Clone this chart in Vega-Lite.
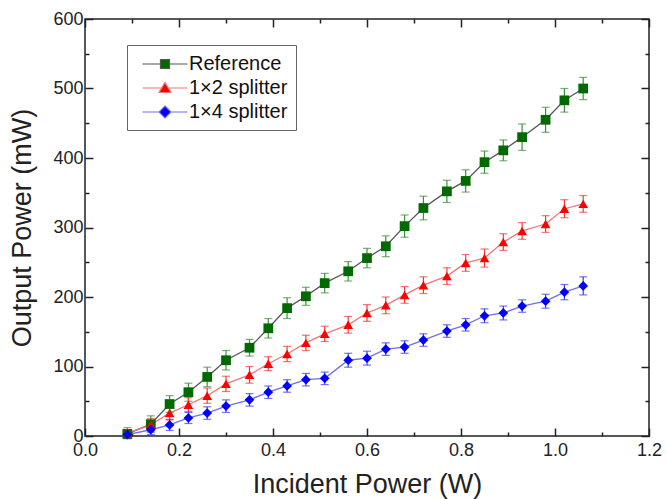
{
  "$schema": "https://vega.github.io/schema/vega-lite/v6.json",
  "width": 564,
  "height": 417,
  "autosize": {"type": "none"},
  "padding": {"left": 85, "top": 19, "right": 18, "bottom": 63},
  "background": "white",
  "config": {
    "view": {"stroke": "#222222", "strokeWidth": 1.5},
    "axis": {
      "domain": false,
      "grid": false,
      "labelFont": "Liberation Sans",
      "titleFont": "Liberation Sans",
      "labelFontSize": 18,
      "titleFontSize": 27,
      "labelColor": "#222222",
      "titleColor": "#222222",
      "titleFontWeight": "normal",
      "tickColor": "#222222",
      "tickWidth": 1.5
    }
  },
  "data": {
    "values": [
      {"s": "Reference", "x": 0.09, "y": 3, "e": 6},
      {"s": "Reference", "x": 0.14, "y": 17, "e": 12},
      {"s": "Reference", "x": 0.18, "y": 46, "e": 12},
      {"s": "Reference", "x": 0.22, "y": 63, "e": 13},
      {"s": "Reference", "x": 0.26, "y": 85, "e": 14},
      {"s": "Reference", "x": 0.30, "y": 109, "e": 14},
      {"s": "Reference", "x": 0.35, "y": 127, "e": 12},
      {"s": "Reference", "x": 0.39, "y": 155, "e": 14},
      {"s": "Reference", "x": 0.43, "y": 184, "e": 15},
      {"s": "Reference", "x": 0.47, "y": 201, "e": 13},
      {"s": "Reference", "x": 0.51, "y": 220, "e": 14},
      {"s": "Reference", "x": 0.56, "y": 237, "e": 14},
      {"s": "Reference", "x": 0.60, "y": 256, "e": 14},
      {"s": "Reference", "x": 0.64, "y": 273, "e": 15},
      {"s": "Reference", "x": 0.68, "y": 302, "e": 16},
      {"s": "Reference", "x": 0.72, "y": 328, "e": 17},
      {"s": "Reference", "x": 0.77, "y": 352, "e": 16},
      {"s": "Reference", "x": 0.81, "y": 367, "e": 16},
      {"s": "Reference", "x": 0.85, "y": 394, "e": 16},
      {"s": "Reference", "x": 0.89, "y": 411, "e": 15},
      {"s": "Reference", "x": 0.93, "y": 430, "e": 19},
      {"s": "Reference", "x": 0.98, "y": 455, "e": 18},
      {"s": "Reference", "x": 1.02, "y": 483, "e": 17},
      {"s": "Reference", "x": 1.06, "y": 500, "e": 16},
      {"s": "1×2 splitter", "x": 0.09, "y": 4, "e": 8},
      {"s": "1×2 splitter", "x": 0.14, "y": 16, "e": 9},
      {"s": "1×2 splitter", "x": 0.18, "y": 33, "e": 10},
      {"s": "1×2 splitter", "x": 0.22, "y": 45, "e": 10},
      {"s": "1×2 splitter", "x": 0.26, "y": 58, "e": 11},
      {"s": "1×2 splitter", "x": 0.30, "y": 75, "e": 11},
      {"s": "1×2 splitter", "x": 0.35, "y": 88, "e": 12},
      {"s": "1×2 splitter", "x": 0.39, "y": 104, "e": 10},
      {"s": "1×2 splitter", "x": 0.43, "y": 118, "e": 11},
      {"s": "1×2 splitter", "x": 0.47, "y": 134, "e": 11},
      {"s": "1×2 splitter", "x": 0.51, "y": 147, "e": 11},
      {"s": "1×2 splitter", "x": 0.56, "y": 160, "e": 12},
      {"s": "1×2 splitter", "x": 0.60, "y": 177, "e": 12},
      {"s": "1×2 splitter", "x": 0.64, "y": 188, "e": 12},
      {"s": "1×2 splitter", "x": 0.68, "y": 203, "e": 12},
      {"s": "1×2 splitter", "x": 0.72, "y": 217, "e": 12},
      {"s": "1×2 splitter", "x": 0.77, "y": 230, "e": 12},
      {"s": "1×2 splitter", "x": 0.81, "y": 249, "e": 12},
      {"s": "1×2 splitter", "x": 0.85, "y": 256, "e": 13},
      {"s": "1×2 splitter", "x": 0.89, "y": 279, "e": 12},
      {"s": "1×2 splitter", "x": 0.93, "y": 295, "e": 12},
      {"s": "1×2 splitter", "x": 0.98, "y": 305, "e": 12},
      {"s": "1×2 splitter", "x": 1.02, "y": 327, "e": 13},
      {"s": "1×2 splitter", "x": 1.06, "y": 334, "e": 12},
      {"s": "1×4 splitter", "x": 0.09, "y": 2, "e": 5},
      {"s": "1×4 splitter", "x": 0.14, "y": 9, "e": 7},
      {"s": "1×4 splitter", "x": 0.18, "y": 16, "e": 8},
      {"s": "1×4 splitter", "x": 0.22, "y": 26, "e": 8},
      {"s": "1×4 splitter", "x": 0.26, "y": 33, "e": 9},
      {"s": "1×4 splitter", "x": 0.30, "y": 43, "e": 9},
      {"s": "1×4 splitter", "x": 0.35, "y": 52, "e": 9},
      {"s": "1×4 splitter", "x": 0.39, "y": 63, "e": 9},
      {"s": "1×4 splitter", "x": 0.43, "y": 72, "e": 9},
      {"s": "1×4 splitter", "x": 0.47, "y": 81, "e": 9},
      {"s": "1×4 splitter", "x": 0.51, "y": 83, "e": 9},
      {"s": "1×4 splitter", "x": 0.56, "y": 109, "e": 10},
      {"s": "1×4 splitter", "x": 0.60, "y": 112, "e": 10},
      {"s": "1×4 splitter", "x": 0.64, "y": 125, "e": 9},
      {"s": "1×4 splitter", "x": 0.68, "y": 128, "e": 9},
      {"s": "1×4 splitter", "x": 0.72, "y": 138, "e": 9},
      {"s": "1×4 splitter", "x": 0.77, "y": 151, "e": 9},
      {"s": "1×4 splitter", "x": 0.81, "y": 160, "e": 9},
      {"s": "1×4 splitter", "x": 0.85, "y": 173, "e": 10},
      {"s": "1×4 splitter", "x": 0.89, "y": 177, "e": 10},
      {"s": "1×4 splitter", "x": 0.93, "y": 187, "e": 9},
      {"s": "1×4 splitter", "x": 0.98, "y": 194, "e": 10},
      {"s": "1×4 splitter", "x": 1.02, "y": 207, "e": 11},
      {"s": "1×4 splitter", "x": 1.06, "y": 216, "e": 13}
    ]
  },
  "resolve": {
    "axis": {"x": "independent", "y": "independent"},
    "scale": {"shape": "independent", "fill": "independent", "stroke": "independent"}
  },
  "layer": [
    {
      "mark": {"type": "line", "strokeWidth": 1.3},
      "encoding": {
        "x": {
          "field": "x", "type": "quantitative",
          "scale": {"domain": [0, 1.2], "nice": false, "zero": false},
          "axis": {
            "orient": "bottom",
            "values": [0, 0.1, 0.2, 0.3, 0.4, 0.5, 0.6, 0.7, 0.8, 0.9, 1.0, 1.1, 1.2],
            "labelExpr": "round(datum.value*10)%2===0 ? format(datum.value,'.1f') : ''",
            "tickSize": {"condition": {"test": "round(datum.value*10)%2===0", "value": -8}, "value": -4},
            "labelPadding": 13,
            "labelFlush": false,
            "labelOverlap": false,
            "title": "Incident Power (W)",
            "titlePadding": 8
          }
        },
        "y": {
          "field": "y", "type": "quantitative",
          "scale": {"domain": [0, 600], "nice": false},
          "axis": {
            "orient": "left",
            "values": [0, 50, 100, 150, 200, 250, 300, 350, 400, 450, 500, 550, 600],
            "labelExpr": "datum.value % 100 === 0 ? format(datum.value,'d') : ''",
            "tickSize": {"condition": {"test": "datum.value % 100 === 0", "value": -8}, "value": -4},
            "labelPadding": 10,
            "labelFlush": false,
            "labelOverlap": false,
            "title": "Output Power (mW)",
            "titlePadding": 16
          }
        },
        "stroke": {
          "field": "s", "type": "nominal",
          "scale": {"domain": ["Reference", "1×4 splitter", "1×2 splitter"], "range": ["#555555", "#6f6fee", "#ee7777"]},
          "legend": null
        }
      }
    },
    {
      "mark": {"type": "errorbar", "ticks": {"size": 8}, "thickness": 1.2},
      "encoding": {
        "x": {"field": "x", "type": "quantitative", "axis": null},
        "y": {"field": "y", "type": "quantitative", "axis": null},
        "yError": {"field": "e"},
        "color": {
          "field": "s", "type": "nominal",
          "scale": {"domain": ["1×2 splitter", "Reference", "1×4 splitter"], "range": ["#f03a3a", "#3f8f3f", "#3a3af0"]},
          "legend": null
        }
      }
    },
    {
      "mark": {"type": "point", "filled": true, "opacity": 1, "size": 95},
      "encoding": {
        "x": {
          "field": "x", "type": "quantitative",
          "axis": {
            "orient": "top",
            "values": [0, 0.1, 0.2, 0.3, 0.4, 0.5, 0.6, 0.7, 0.8, 0.9, 1.0, 1.1, 1.2],
            "labels": false,
            "title": null,
            "tickSize": {"condition": {"test": "round(datum.value*10)%2===0", "value": -8}, "value": -4}
          }
        },
        "y": {
          "field": "y", "type": "quantitative",
          "axis": {
            "orient": "right",
            "values": [0, 50, 100, 150, 200, 250, 300, 350, 400, 450, 500, 550, 600],
            "labels": false,
            "title": null,
            "tickSize": {"condition": {"test": "datum.value % 100 === 0", "value": -8}, "value": -4}
          }
        },
        "shape": {
          "field": "s", "type": "nominal",
          "scale": {"domain": ["Reference", "1×2 splitter", "1×4 splitter"], "range": ["square", "triangle-up", "diamond"]},
          "legend": null
        },
        "fill": {
          "field": "s", "type": "nominal",
          "scale": {"domain": ["Reference", "1×2 splitter", "1×4 splitter"], "range": ["#006a00", "#ff0000", "#0000ff"]},
          "legend": null
        }
      }
    },
    {
      "mark": {"type": "point", "filled": true, "opacity": 1, "size": 0, "strokeWidth": 1.2},
      "encoding": {
        "x": {"field": "x", "type": "quantitative", "axis": null},
        "y": {"field": "y", "type": "quantitative", "axis": null},
        "shape": {
          "field": "s", "type": "nominal",
          "scale": {
            "domain": ["Reference", "1×2 splitter", "1×4 splitter"],
            "range": [
              "M-2.25,0H-0.45M0.45,0H2.25M-0.45,-0.45H0.45V0.45H-0.45Z",
              "M-2.25,0H-0.33M0.33,0H2.25M0,-0.55L0.6,0.45L-0.6,0.45Z",
              "M-2.25,0H-0.6M0.6,0H2.25M0,-0.6L0.6,0L0,0.6L-0.6,0Z"
            ]
          },
          "legend": {
            "orient": "none",
            "legendX": 42,
            "legendY": 26,
            "title": null,
            "fillColor": "white",
            "strokeColor": "#666666",
            "padding": 8,
            "symbolSize": 400,
            "symbolStrokeWidth": 1.2,
            "symbolOffset": 19,
            "labelOffset": 13,
            "rowPadding": 3,
            "labelFont": "Liberation Sans",
            "labelFontSize": 20,
            "labelColor": "#111111"
          }
        },
        "fill": {
          "field": "s", "type": "nominal",
          "scale": {"domain": ["Reference", "1×2 splitter", "1×4 splitter"], "range": ["#006a00", "#ff0000", "#0000ff"]},
          "legend": {
            "orient": "none",
            "legendX": 42,
            "legendY": 26,
            "title": null,
            "fillColor": "white",
            "strokeColor": "#666666",
            "padding": 8,
            "symbolSize": 400,
            "symbolStrokeWidth": 1.2,
            "symbolOffset": 19,
            "labelOffset": 13,
            "rowPadding": 3,
            "labelFont": "Liberation Sans",
            "labelFontSize": 20,
            "labelColor": "#111111"
          }
        },
        "stroke": {
          "field": "s", "type": "nominal",
          "scale": {"domain": ["Reference", "1×2 splitter", "1×4 splitter"], "range": ["#555555", "#ee7777", "#6f6fee"]},
          "legend": {
            "orient": "none",
            "legendX": 42,
            "legendY": 26,
            "title": null,
            "fillColor": "white",
            "strokeColor": "#666666",
            "padding": 8,
            "symbolSize": 400,
            "symbolStrokeWidth": 1.2,
            "symbolOffset": 19,
            "labelOffset": 13,
            "rowPadding": 3,
            "labelFont": "Liberation Sans",
            "labelFontSize": 20,
            "labelColor": "#111111"
          }
        }
      }
    }
  ]
}
